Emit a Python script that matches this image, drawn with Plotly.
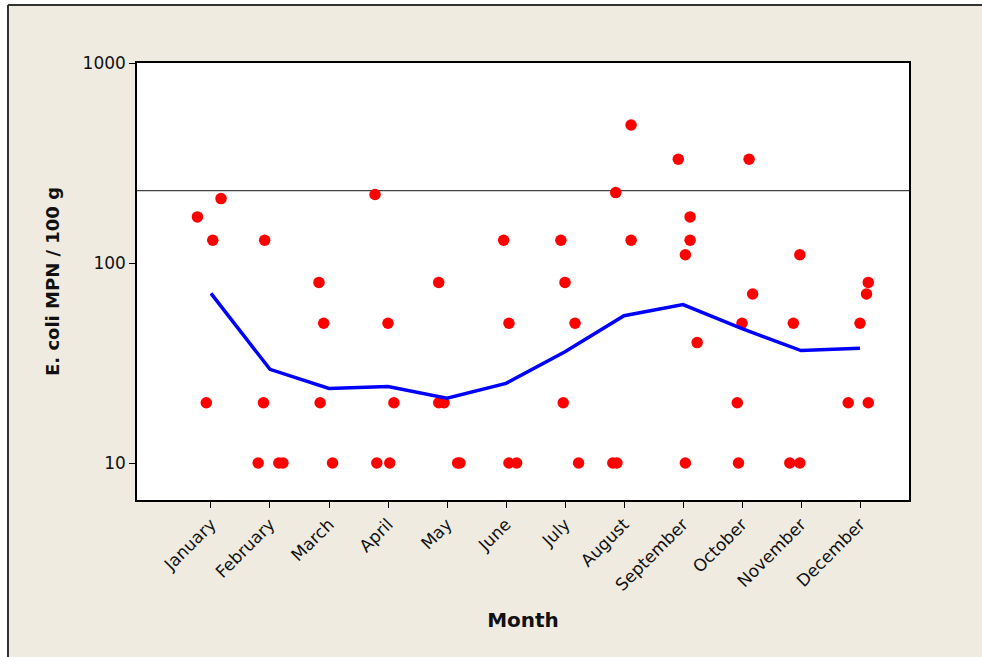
import plotly.graph_objects as go

months = ["January", "February", "March", "April", "May", "June",
          "July", "August", "September", "October", "November", "December"]

# individual samples: month index, value, horizontal jitter (fraction of a category)
sample_month = [0, 0, 0, 0,
                1, 1, 1, 1, 1,
                2, 2, 2, 2,
                3, 3, 3, 3, 3,
                4, 4, 4, 4, 4,
                5, 5, 5, 5,
                6, 6, 6, 6, 6,
                7, 7, 7, 7, 7,
                8, 8, 8, 8, 8, 8,
                9, 9, 9, 9, 9,
                10, 10, 10, 10,
                11, 11, 11, 11, 11]
sample_value = [210, 170, 130, 20,
                130, 20, 10, 10, 10,
                80, 50, 20, 10,
                220, 50, 20, 10, 10,
                80, 20, 20, 10, 10,
                130, 50, 10, 10,
                130, 80, 50, 20, 10,
                490, 225, 130, 10, 10,
                330, 170, 130, 110, 40, 10,
                330, 70, 50, 20, 10,
                110, 50, 10, 10,
                80, 70, 50, 20, 20]
sample_jitter = [0.17, -0.23, 0.03, -0.08,
                 -0.09, -0.11, -0.20, 0.15, 0.22,
                 -0.17, -0.09, -0.15, 0.06,
                 -0.22, 0.00, 0.10, -0.19, 0.03,
                 -0.14, -0.14, -0.05, 0.18, 0.22,
                 -0.04, 0.05, 0.05, 0.18,
                 -0.07, 0.00, 0.17, -0.03, 0.23,
                 0.12, -0.14, 0.12, -0.19, -0.12,
                 -0.08, 0.12, 0.12, 0.04, 0.24, 0.04,
                 0.12, 0.18, 0.00, -0.08, -0.06,
                 -0.02, -0.13, -0.19, -0.02,
                 0.14, 0.11, 0.00, -0.20, 0.14]

# connect line per month
month_mean = [70.5, 29.4, 23.6, 24.1, 21.1, 25, 36, 54.5, 62, 47, 36.5, 37.5]

threshold = 230

bg = "#EFEBE1"
font_family = "DejaVu Sans, Verdana, sans-serif"

W, H = 975, 653
L, R, T, B = 130, 73, 59, 157
pw, ph = W - L - R, H - T - B

fig = go.Figure()

fig.add_trace(go.Scatter(
    x=[m + j for m, j in zip(sample_month, sample_jitter)],
    y=sample_value,
    mode="markers",
    marker=dict(color="#FF0000", size=11.5, line=dict(width=0)),
    showlegend=False,
))

fig.add_trace(go.Scatter(
    x=list(range(len(months))),
    y=month_mean,
    mode="lines",
    line=dict(color="#0000FF", width=3.5),
    showlegend=False,
))

fig.add_shape(type="line", xref="paper", x0=0, x1=1, yref="y", y0=threshold, y1=threshold,
              line=dict(color="#444444", width=1.2), layer="below")
fig.add_annotation(x=1, xref="paper", y=threshold, yref="y", text=str(threshold),
                   showarrow=False, xanchor="left", xshift=6,
                   font=dict(size=17, color="#111111", family=font_family))

# dark frame on the left and top edges of the picture
fx = -(L - 1) / pw
fy = 1 + (T - 1) / ph
fig.add_shape(type="line", xref="paper", yref="paper", x0=fx, x1=fx, y0=-B / ph, y1=fy,
              line=dict(color="#333333", width=2))
fig.add_shape(type="line", xref="paper", yref="paper", x0=fx, x1=1 + R / pw, y0=fy, y1=fy,
              line=dict(color="#333333", width=2))

fig.update_layout(
    width=W,
    height=H,
    margin=dict(l=L, r=R, t=T, b=B),
    paper_bgcolor=bg,
    plot_bgcolor="white",
    font=dict(family=font_family, color="#111111", size=17),
    xaxis=dict(
        range=[-1.254, 11.83],
        tickvals=list(range(len(months))),
        ticktext=months,
        tickangle=-45,
        ticks="outside", ticklen=6, tickcolor="black",
        showline=True, linecolor="black", linewidth=1.5, mirror=True,
        showgrid=False, zeroline=False,
        tickfont=dict(size=17),
        title=dict(text="<b>Month</b>", font=dict(size=20), standoff=19),
    ),
    yaxis=dict(
        type="log",
        range=[0.815, 3],
        tickvals=[10, 100, 1000],
        ticktext=["10", "100", "1000"],
        ticks="outside", ticklen=6, tickcolor="black",
        showline=True, linecolor="black", linewidth=1.5, mirror=True,
        showgrid=False, zeroline=False,
        tickfont=dict(size=17),
        title=dict(text="<b>E. coli MPN / 100 g</b>", font=dict(size=18), standoff=18),
    ),
)

fig.write_html("out.html",
               post_script="document.body.style.margin='4px 0 0 7px';"
                           "document.body.style.overflow='hidden';")
